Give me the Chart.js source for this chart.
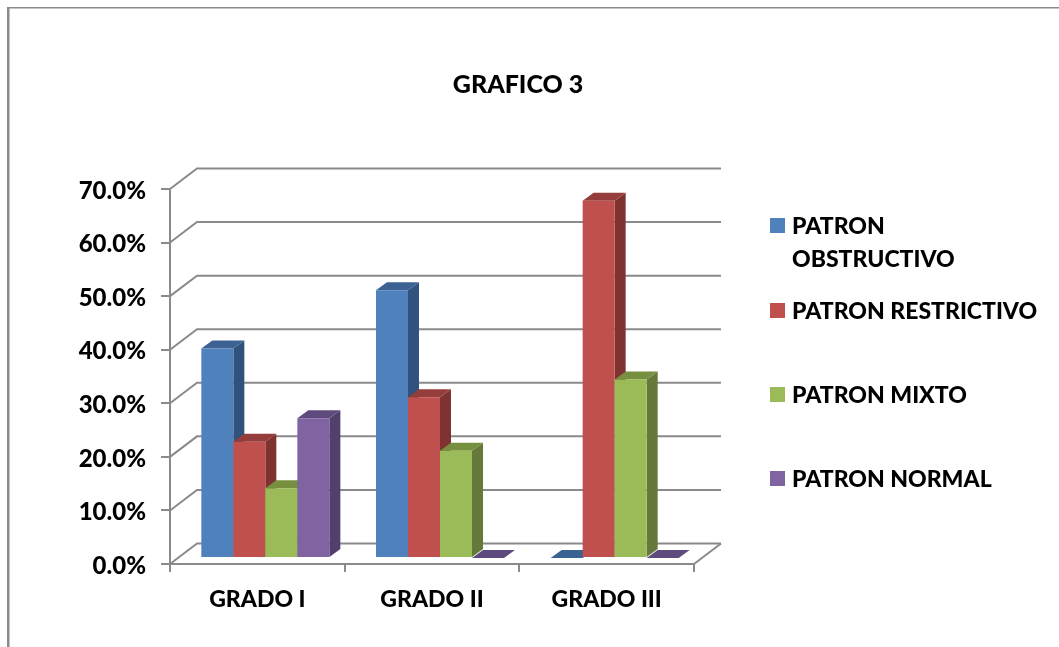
<!DOCTYPE html>
<html>
<head>
<meta charset="utf-8">
<style>html,body{margin:0;padding:0;background:#fff}canvas{display:block}</style>
<script src="https://cdn.jsdelivr.net/npm/chart.js@4/dist/chart.umd.min.js"></script>
</head>
<body>
<canvas id="chart" width="1059" height="647"></canvas>
<script>
// Data
const chartTitle = 'GRAFICO 3';
const categories = ['GRADO I', 'GRADO II', 'GRADO III'];
const seriesNames = ['PATRON OBSTRUCTIVO', 'PATRON RESTRICTIVO', 'PATRON MIXTO', 'PATRON NORMAL'];
const obstructivo = [39.1, 50.0, 0];
const restrictivo = [21.7, 30.0, 66.7];
const mixto = [13.0, 20.0, 33.3];
const normal = [26.1, 0, 0];

// Series colours: front, top and side faces of each column
const frontColors = ['#4f81bd', '#c0504d', '#9bbb59', '#8064a2'];
const topColors = ['#3b6293', '#943d3a', '#77903f', '#5f4a7e'];
const sideColors = ['#30527c', '#7f3330', '#65793a', '#533f6b'];

// Extrusion geometry
const GREY = '#8a8a8a';
const FONT = 'Lato, Carlito, sans-serif';
const WEIGHT = '900';
const WALL_DX = 27, WALL_DY = 20.5;    // depth of the floor and back wall
const BAR_DX = 11, BAR_DY = 8;         // depth of a column
const BAR_SHIFT_X = 8, BAR_SHIFT_Y = -6; // columns stand inside the floor
const Y_LABEL_NUDGE = 2;               // optical centring of the value labels on their ticks

function poly(ctx, pts, fill) {
  ctx.beginPath();
  pts.forEach((p, i) => i ? ctx.lineTo(p[0], p[1]) : ctx.moveTo(p[0], p[1]));
  ctx.closePath();
  ctx.fillStyle = fill;
  ctx.fill();
}

// Back wall: each gridline runs up the side wall, then along the back
const wallPlugin = {
  id: 'wall',
  beforeDatasetsDraw(chart) {
    const { ctx, scales: { x, y } } = chart;
    const l = x.left, r = x.right;
    ctx.save();
    ctx.strokeStyle = GREY;
    ctx.lineWidth = 2;
    y.ticks.forEach(t => {
      const py = y.getPixelForValue(t.value);
      ctx.beginPath();
      ctx.moveTo(l, py);
      ctx.lineTo(l + WALL_DX, py - WALL_DY);
      ctx.lineTo(r + WALL_DX, py - WALL_DY);
      ctx.stroke();
    });
    const base = y.getPixelForValue(0);
    ctx.beginPath();
    ctx.moveTo(r, base);
    ctx.lineTo(r + WALL_DX, base - WALL_DY);
    ctx.stroke();
    ctx.restore();
  }
};

// Columns are painted series by series from left to right, so each front
// covers the side face of the column before it
const columnPlugin = {
  id: 'column',
  beforeDatasetsDraw(chart) {
    const { ctx } = chart;
    ctx.save();
    ctx.translate(BAR_SHIFT_X, BAR_SHIFT_Y);
    seriesNames.forEach((_, i) => {
      const meta = chart.getDatasetMeta(i);
      meta.data.forEach(bar => {
        const p = bar.getProps(['x', 'y', 'base', 'width'], true);
        const a = p.x - p.width / 2, b = p.x + p.width / 2;
        if (p.base - p.y > 0.5) {
          poly(ctx, [[b, p.y], [b + BAR_DX, p.y - BAR_DY], [b + BAR_DX, p.base - BAR_DY], [b, p.base]], sideColors[i]);
        }
        poly(ctx, [[a, p.y], [b, p.y], [b + BAR_DX, p.y - BAR_DY], [a + BAR_DX, p.y - BAR_DY]], topColors[i]);
      });
      meta.controller.draw();
    });
    ctx.restore();
    return false;
  }
};

// Outer frame, title and the series key on the right
const decorPlugin = {
  id: 'decor',
  afterDraw(chart) {
    const { ctx } = chart;
    ctx.save();
    ctx.fillStyle = GREY;
    ctx.fillRect(7, 7, 1052, 1.5);
    ctx.fillRect(7, 7, 2.5, 640);

    ctx.fillStyle = '#000';
    ctx.textBaseline = 'middle';
    ctx.textAlign = 'center';
    ctx.font = WEIGHT + ' 25px ' + FONT;
    ctx.fillText(chartTitle, 518, 85);

    ctx.textAlign = 'left';
    ctx.font = WEIGHT + ' 23px ' + FONT;
    const limit = ctx.measureText(seriesNames[1]).width + 2;
    const rows = [227, 312, 396, 480];
    seriesNames.forEach((name, i) => {
      ctx.fillStyle = frontColors[i];
      ctx.fillRect(770, rows[i] - 9, 15, 15);
      ctx.fillStyle = '#000';
      const words = name.split(' ');
      let line = words[0], row = rows[i];
      words.slice(1).forEach(w => {
        if (ctx.measureText(line + ' ' + w).width > limit) {
          ctx.fillText(line, 792, row);
          line = w;
          row += 33;
        } else {
          line += ' ' + w;
        }
      });
      ctx.fillText(line, 792, row);
    });
    ctx.restore();
  }
};

const seriesValues = [obstructivo, restrictivo, mixto, normal];

const chart = new Chart(document.getElementById('chart'), {
  type: 'bar',
  data: {
    labels: categories,
    datasets: seriesNames.map((label, i) => ({
      label,
      data: seriesValues[i],
      backgroundColor: frontColors[i],
      clip: false,
      categoryPercentage: 0.733,
      barPercentage: 1
    }))
  },
  options: {
    responsive: false,
    animation: false,
    layout: { padding: { top: 189, right: 365, left: 0, bottom: 0 } },
    plugins: { legend: { display: false }, title: { display: false }, tooltip: { enabled: false } },
    scales: {
      x: {
        afterFit(s) { s.height = 83; },
        grid: { drawOnChartArea: false, drawTicks: true, tickLength: 8, color: GREY, lineWidth: 2 },
        border: { display: true, color: GREY, width: 2 },
        ticks: { color: '#000', padding: 14, font: { family: FONT, size: 23, weight: WEIGHT }, maxRotation: 0 }
      },
      y: {
        min: 0,
        max: 70,
        afterFit(s) { s.width = 170; },
        grid: { drawOnChartArea: false, drawTicks: true, tickLength: 9, color: GREY, lineWidth: 2 },
        border: { display: true, color: GREY, width: 2 },
        ticks: {
          stepSize: 10,
          color: '#000',
          padding: 15,
          font: { family: FONT, size: 24, weight: WEIGHT },
          callback: v => v.toFixed(1) + '%'
        }
      }
    }
  },
  plugins: [wallPlugin, columnPlugin, decorPlugin]
});

// Value labels sit slightly lower than the library's middle baseline puts them
const yAxis = chart.scales.y;
const drawYLabels = yAxis.drawLabels;
yAxis.drawLabels = function (area) {
  this.ctx.save();
  this.ctx.translate(0, Y_LABEL_NUDGE);
  drawYLabels.call(this, area);
  this.ctx.restore();
};
chart.draw();
</script>
</body>
</html>
